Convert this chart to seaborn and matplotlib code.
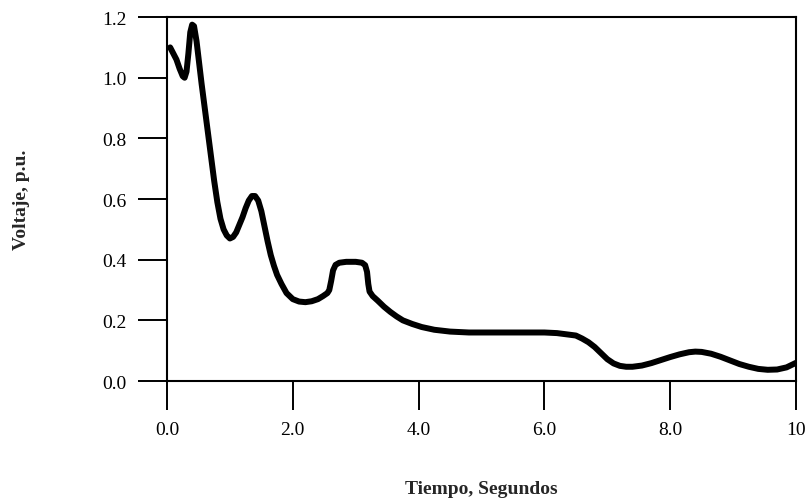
import pandas as pd
import seaborn as sns
import matplotlib.pyplot as plt

# Points
tiempo = [0.05, 0.10, 0.15, 0.20, 0.25, 0.28, 0.31, 0.34, 0.37, 0.40, 0.43, 0.47,
          0.51, 0.55, 0.60, 0.65, 0.70, 0.75, 0.80, 0.85, 0.90, 0.95, 1.00, 1.05,
          1.10, 1.15, 1.20, 1.25, 1.30, 1.35, 1.40, 1.45, 1.50, 1.55, 1.60, 1.65,
          1.70, 1.75, 1.82, 1.90, 2.00, 2.10, 2.20, 2.30, 2.40, 2.48, 2.55, 2.58,
          2.61, 2.64, 2.68, 2.74, 2.85, 3.00, 3.10, 3.15, 3.18, 3.20, 3.22, 3.27,
          3.35, 3.45, 3.55, 3.65, 3.75, 3.90, 4.05, 4.25, 4.50, 4.80, 5.20, 5.60,
          6.00, 6.20, 6.35, 6.50, 6.60, 6.70, 6.80, 6.90, 7.00, 7.10, 7.20, 7.30,
          7.40, 7.55, 7.70, 7.85, 8.00, 8.15, 8.30, 8.40, 8.50, 8.65, 8.80, 8.95,
          9.10, 9.25, 9.40, 9.55, 9.70, 9.85, 10.0]
voltaje = [1.10, 1.08, 1.06, 1.03, 1.005, 1.00, 1.02, 1.08, 1.15, 1.175, 1.17, 1.12,
           1.05, 0.98, 0.90, 0.82, 0.74, 0.66, 0.59, 0.535, 0.50, 0.48, 0.47, 0.475,
           0.49, 0.515, 0.54, 0.57, 0.595, 0.61, 0.61, 0.595, 0.56, 0.51, 0.46, 0.415,
           0.38, 0.35, 0.32, 0.29, 0.27, 0.262, 0.26, 0.263, 0.27, 0.28, 0.29, 0.30,
           0.33, 0.365, 0.383, 0.39, 0.393, 0.393, 0.39, 0.382, 0.36, 0.32, 0.295, 0.28,
           0.265, 0.245, 0.228, 0.213, 0.20, 0.188, 0.178, 0.169, 0.163, 0.16, 0.16, 0.16,
           0.16, 0.158, 0.154, 0.15, 0.14, 0.128, 0.112, 0.092, 0.072, 0.058, 0.05, 0.047,
           0.047, 0.051, 0.059, 0.069, 0.079, 0.088, 0.095, 0.097, 0.096, 0.09, 0.08, 0.068,
           0.056, 0.047, 0.04, 0.037, 0.038, 0.045, 0.06]

x_ticks = [0, 2, 4, 6, 8, 10]
x_labels = ['0.0', '2.0', '4.0', '6.0', '8.0', '10']
y_ticks = [0.0, 0.2, 0.4, 0.6, 0.8, 1.0, 1.2]
y_labels = ['0.0', '0.2', '0.4', '0.6', '0.8', '1.0', '1.2']

df = pd.DataFrame({'t': tiempo, 'v': voltaje})

sns.set_style("ticks")
plt.rcParams['font.family'] = ['Liberation Serif', 'DejaVu Serif']

fig = plt.figure(figsize=(8.06, 5.02), dpi=100)
ax = fig.add_axes([0.2072, 0.239, 0.7804, 0.725])

line = sns.lineplot(data=df, x='t', y='v', color='black', linewidth=4.3, ax=ax)
for l in ax.lines:
    l.set_solid_joinstyle('round')
    l.set_solid_capstyle('round')

ax.set_xlim(0, 10)
ax.set_ylim(0, 1.2)
ax.set_xticks(x_ticks)
ax.set_xticklabels(x_labels)
ax.set_yticks(y_ticks)
ax.set_yticklabels(y_labels)
ax.tick_params(axis='both', direction='out', length=21, width=1.4,
               labelsize=14, color='black', labelcolor='black')
ax.tick_params(axis='y', pad=8)
ax.tick_params(axis='x', pad=8)

for side in ['left', 'bottom', 'right', 'top']:
    ax.spines[side].set_visible(True)
    ax.spines[side].set_linewidth(1.5)
    ax.spines[side].set_color('black')

ax.set_xlabel('Tiempo, Segundos', fontsize=14, fontweight='bold', labelpad=30)
ax.set_ylabel('Voltaje, p.u.', fontsize=14, fontweight='bold', labelpad=52)

fig.savefig('out.png', dpi=100)
